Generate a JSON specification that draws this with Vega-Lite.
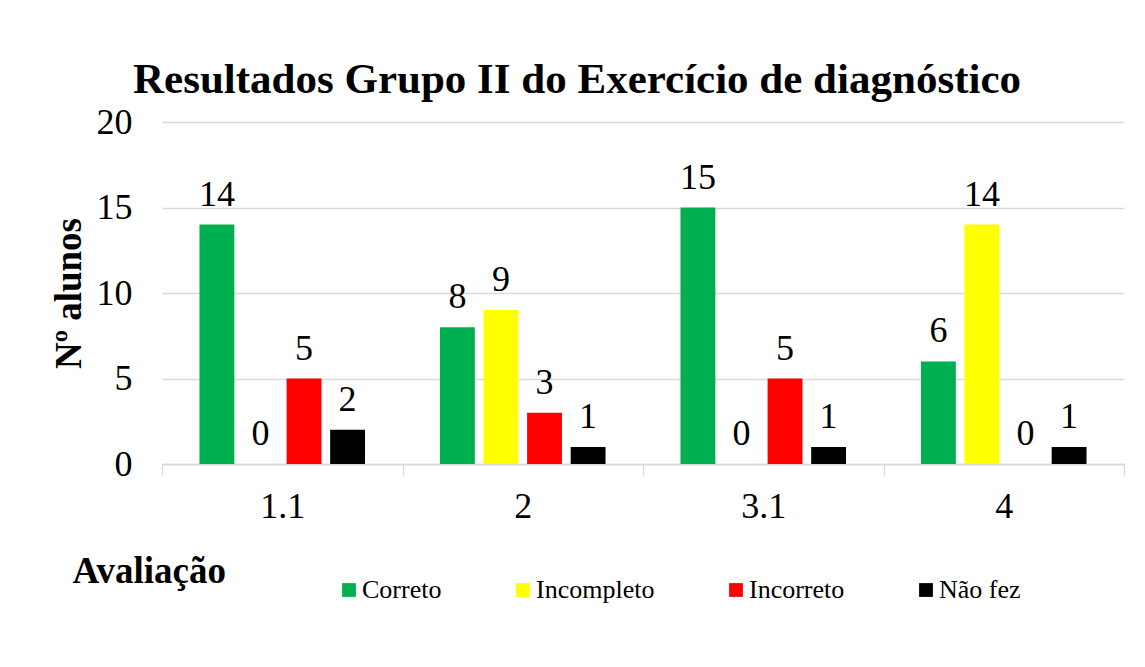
{
  "$schema": "https://vega.github.io/schema/vega-lite/v6.json",
  "width": 962,
  "height": 342,
  "autosize": {"type": "none"},
  "padding": {"left": 162, "top": 122, "right": 21, "bottom": 203},
  "background": "white",
  "config": {"view": {"stroke": null}},
  "title": {
    "text": "Resultados Grupo II do Exercício de diagnóstico",
    "font": "Liberation Serif",
    "fontSize": 43,
    "fontWeight": "bold",
    "color": "black",
    "anchor": "middle",
    "frame": "group",
    "dx": -66,
    "offset": 2
  },
  "data": {
    "values": [
      {"avaliacao": "1.1", "resultado": "Correto", "n": 14},
      {"avaliacao": "1.1", "resultado": "Incompleto", "n": 0},
      {"avaliacao": "1.1", "resultado": "Incorreto", "n": 5},
      {"avaliacao": "1.1", "resultado": "Não fez", "n": 2},
      {"avaliacao": "2", "resultado": "Correto", "n": 8},
      {"avaliacao": "2", "resultado": "Incompleto", "n": 9},
      {"avaliacao": "2", "resultado": "Incorreto", "n": 3},
      {"avaliacao": "2", "resultado": "Não fez", "n": 1},
      {"avaliacao": "3.1", "resultado": "Correto", "n": 15},
      {"avaliacao": "3.1", "resultado": "Incompleto", "n": 0},
      {"avaliacao": "3.1", "resultado": "Incorreto", "n": 5},
      {"avaliacao": "3.1", "resultado": "Não fez", "n": 1},
      {"avaliacao": "4", "resultado": "Correto", "n": 6},
      {"avaliacao": "4", "resultado": "Incompleto", "n": 14},
      {"avaliacao": "4", "resultado": "Incorreto", "n": 0},
      {"avaliacao": "4", "resultado": "Não fez", "n": 1}
    ]
  },
  "encoding": {
    "x": {
      "field": "avaliacao",
      "type": "nominal",
      "sort": ["1.1", "2", "3.1", "4"],
      "scale": {"paddingInner": 0, "paddingOuter": 0},
      "axis": {
        "title": "Avaliação",
        "titleFont": "Liberation Serif",
        "titleFontSize": 37,
        "titleFontWeight": "bold",
        "titleColor": "black",
        "titleX": -90,
        "titleY": 118,
        "titleAlign": "left",
        "titleBaseline": "alphabetic",
        "labelFont": "Liberation Serif",
        "labelFontSize": 36,
        "labelColor": "black",
        "labelAngle": 0,
        "labelPadding": 14,
        "domainColor": "#d9d9d9",
        "domainWidth": 1.3,
        "tickColor": "#d9d9d9",
        "tickWidth": 1.3,
        "tickSize": 11,
        "tickBand": "extent",
        "grid": false
      }
    },
    "xOffset": {
      "field": "resultado",
      "type": "nominal",
      "sort": ["Correto", "Incompleto", "Incorreto", "Não fez"],
      "scale": {"paddingInner": 0.2, "paddingOuter": 0.86}
    },
    "y": {
      "field": "n",
      "type": "quantitative",
      "scale": {"domain": [0, 20]},
      "axis": {
        "title": "Nº alunos",
        "titleFont": "Liberation Serif",
        "titleFontSize": 37,
        "titleFontWeight": "bold",
        "titleColor": "black",
        "titleAngle": -90,
        "titleX": -82,
        "titleY": 171,
        "titleAlign": "center",
        "titleBaseline": "alphabetic",
        "values": [0, 5, 10, 15, 20],
        "labelFont": "Liberation Serif",
        "labelFontSize": 36,
        "labelColor": "black",
        "labelPadding": 30,
        "ticks": false,
        "domain": false,
        "grid": true,
        "gridColor": "#d9d9d9",
        "gridWidth": 1.3
      }
    }
  },
  "layer": [
    {
      "mark": {"type": "bar"},
      "encoding": {
        "color": {
          "field": "resultado",
          "type": "nominal",
          "sort": ["Correto", "Incompleto", "Incorreto", "Não fez"],
          "scale": {
            "domain": ["Correto", "Incompleto", "Incorreto", "Não fez"],
            "range": ["#00B050", "#FFFF00", "#FF0000", "#000000"]
          },
          "legend": {
            "title": null,
            "orient": "none",
            "direction": "horizontal",
            "legendX": 174,
            "legendY": 455,
            "gridAlign": "each",
            "columnPadding": 68,
            "symbolType": "square",
            "symbolSize": 190,
            "symbolStrokeWidth": 0,
            "symbolOpacity": 1,
            "labelFont": "Liberation Serif",
            "labelFontSize": 26,
            "labelColor": "black",
            "labelOffset": 0,
            "labelLimit": 300
          }
        }
      }
    },
    {
      "mark": {
        "type": "text",
        "dy": -19,
        "baseline": "alphabetic",
        "font": "Liberation Serif",
        "fontSize": 36,
        "color": "black"
      },
      "encoding": {"text": {"field": "n", "type": "quantitative"}}
    }
  ]
}
